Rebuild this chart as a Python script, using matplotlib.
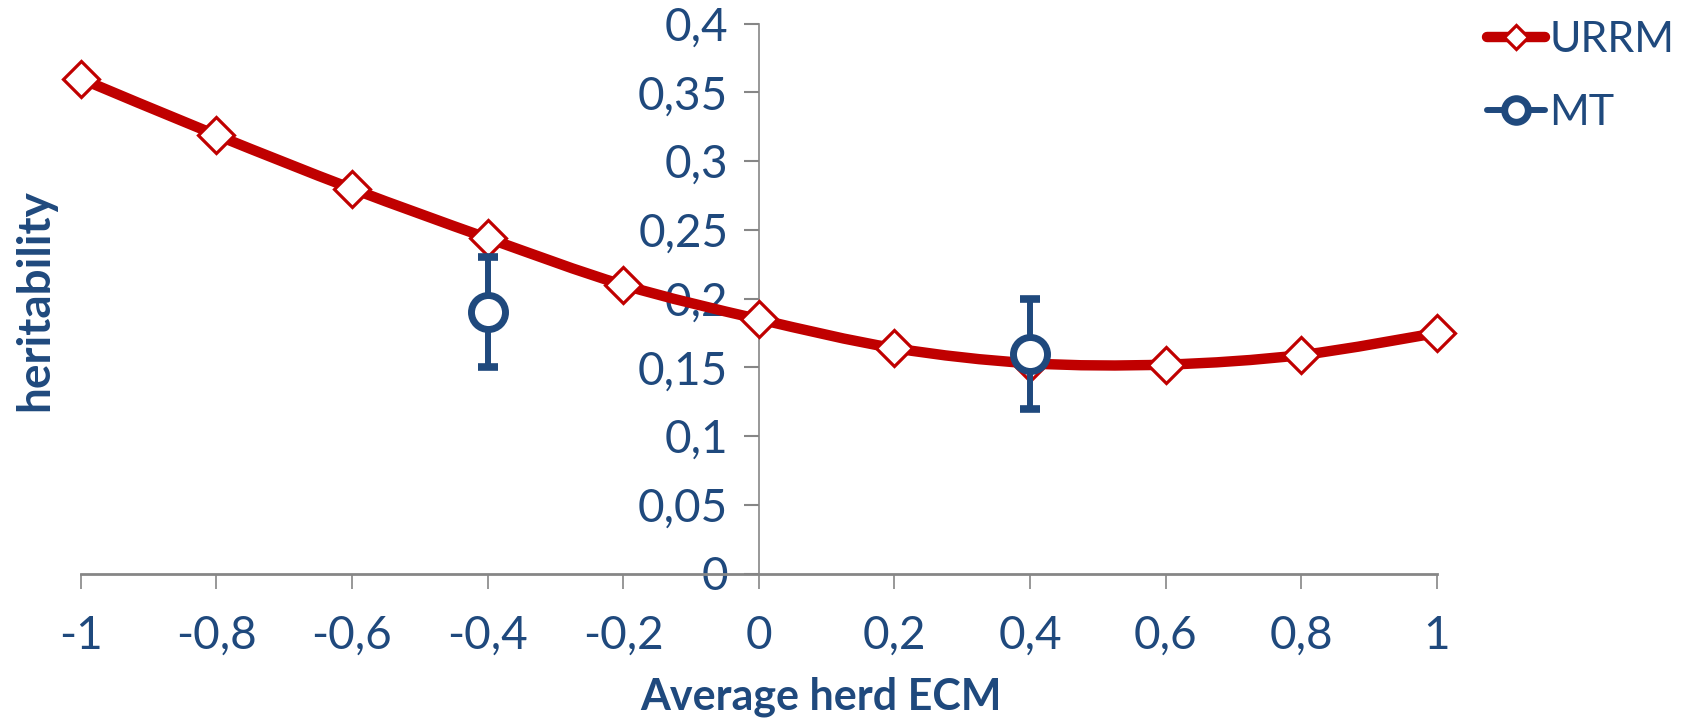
import numpy as np
import matplotlib
matplotlib.use("Agg")
import matplotlib.pyplot as plt
from matplotlib.path import Path
from matplotlib.patches import PathPatch
from matplotlib.lines import Line2D

plt.rcParams['font.family'] = ['Lato', 'DejaVu Sans']

# ---- data ----
urrm_x = [-1.0, -0.8, -0.6, -0.4, -0.2, 0.0, 0.2, 0.4, 0.6, 0.8, 1.0]
urrm_y = [0.360, 0.319, 0.280, 0.244, 0.210, 0.185, 0.164, 0.153, 0.152, 0.159, 0.175]
mt_x = [-0.4, 0.4]
mt_y = [0.19, 0.16]
mt_err = [0.04, 0.04]
x_ticks = [-1, -0.8, -0.6, -0.4, -0.2, 0, 0.2, 0.4, 0.6, 0.8, 1]
x_labels = ["-1", "-0,8", "-0,6", "-0,4", "-0,2", "0", "0,2", "0,4", "0,6", "0,8", "1"]
y_ticks = [0, 0.05, 0.1, 0.15, 0.2, 0.25, 0.3, 0.35, 0.4]
y_labels = ["0", "0,05", "0,1", "0,15", "0,2", "0,25", "0,3", "0,35", "0,4"]

RED = "#C00000"
BLUE = "#1F497D"
GREY = "#868686"

fig = plt.figure(figsize=(16.87, 7.2), dpi=100)
ax = fig.add_axes([80.7 / 1687, 1 - 573.5 / 720, (1437 - 80.7) / 1687, (573.5 - 23.7) / 720])
ax.set_xlim(-1, 1)
ax.set_ylim(0, 0.4)


def smooth_path(xs, ys):
    pts = np.column_stack([xs, ys])
    n = len(pts)
    verts = [pts[0]]
    codes = [Path.MOVETO]
    for i in range(n - 1):
        p0 = pts[i - 1] if i > 0 else pts[i]
        p1 = pts[i]
        p2 = pts[i + 1]
        p3 = pts[i + 2] if i + 2 < n else pts[i + 1]
        c1 = p1 + (p2 - p0) / 6.0
        c2 = p2 - (p3 - p1) / 6.0
        verts += [c1, c2, p2]
        codes += [Path.CURVE4] * 3
    return Path(verts, codes)


ax.add_patch(PathPatch(smooth_path(urrm_x, urrm_y), facecolor='none', edgecolor=RED,
                       lw=7.5, capstyle='butt', zorder=3, clip_on=False))
ax.plot(urrm_x, urrm_y, linestyle='none', marker='D', ms=18.5, mfc='white', mec=RED,
        mew=2.3, zorder=4, clip_on=False)

ax.errorbar(mt_x, mt_y, yerr=mt_err, fmt='none', ecolor=BLUE, elinewidth=4.3,
            capsize=7, capthick=5.5, zorder=5)
ax.plot(mt_x, mt_y, linestyle='none', marker='o', ms=24.5, mfc='white', mec=BLUE,
        mew=5, zorder=6)

# spines
for s in ['top', 'right']:
    ax.spines[s].set_visible(False)
ax.spines['left'].set_position(('data', 0))
ax.spines['left'].set_color(GREY)
ax.spines['left'].set_linewidth(1.2)
ax.spines['bottom'].set_color(GREY)
ax.spines['bottom'].set_linewidth(2)

ax.set_xticks(x_ticks)
ax.set_xticklabels(x_labels)
ax.set_yticks(y_ticks)
ax.set_yticklabels(y_labels)
ax.tick_params(axis='x', direction='out', length=11, width=1.2, color=GREY,
               labelsize=33, labelcolor=BLUE, pad=19)
ax.tick_params(axis='y', direction='out', length=11, width=1.5, color=GREY,
               labelsize=33, labelcolor=BLUE, pad=11)

fig.text(821 / 1687, 1 - 697 / 720, "Average herd ECM", ha='center', va='center',
         fontsize=31, fontweight='bold', color=BLUE)
fig.text(35 / 1687, 1 - 300 / 720, "heritability", ha='center', va='center',
         rotation=90, fontsize=33, fontweight='bold', color=BLUE)

handles = [
    Line2D([], [], color=RED, lw=7.5, marker='D', ms=12, mfc='white', mec=RED, mew=2.3,
           solid_capstyle='round'),
    Line2D([], [], color=BLUE, lw=4.3, marker='o', ms=17, mfc='white', mec=BLUE, mew=5,
           solid_capstyle='round'),
]
fig.legend(handles, ["URRM", "MT"], loc='upper left',
           bbox_to_anchor=(1487 / 1687, 1 - 21 / 720), frameon=False,
           fontsize=31, labelcolor=BLUE, handlelength=1.35, handletextpad=0.1,
           labelspacing=0.82, borderaxespad=0, borderpad=0)

fig.savefig("out.png", dpi=100)
